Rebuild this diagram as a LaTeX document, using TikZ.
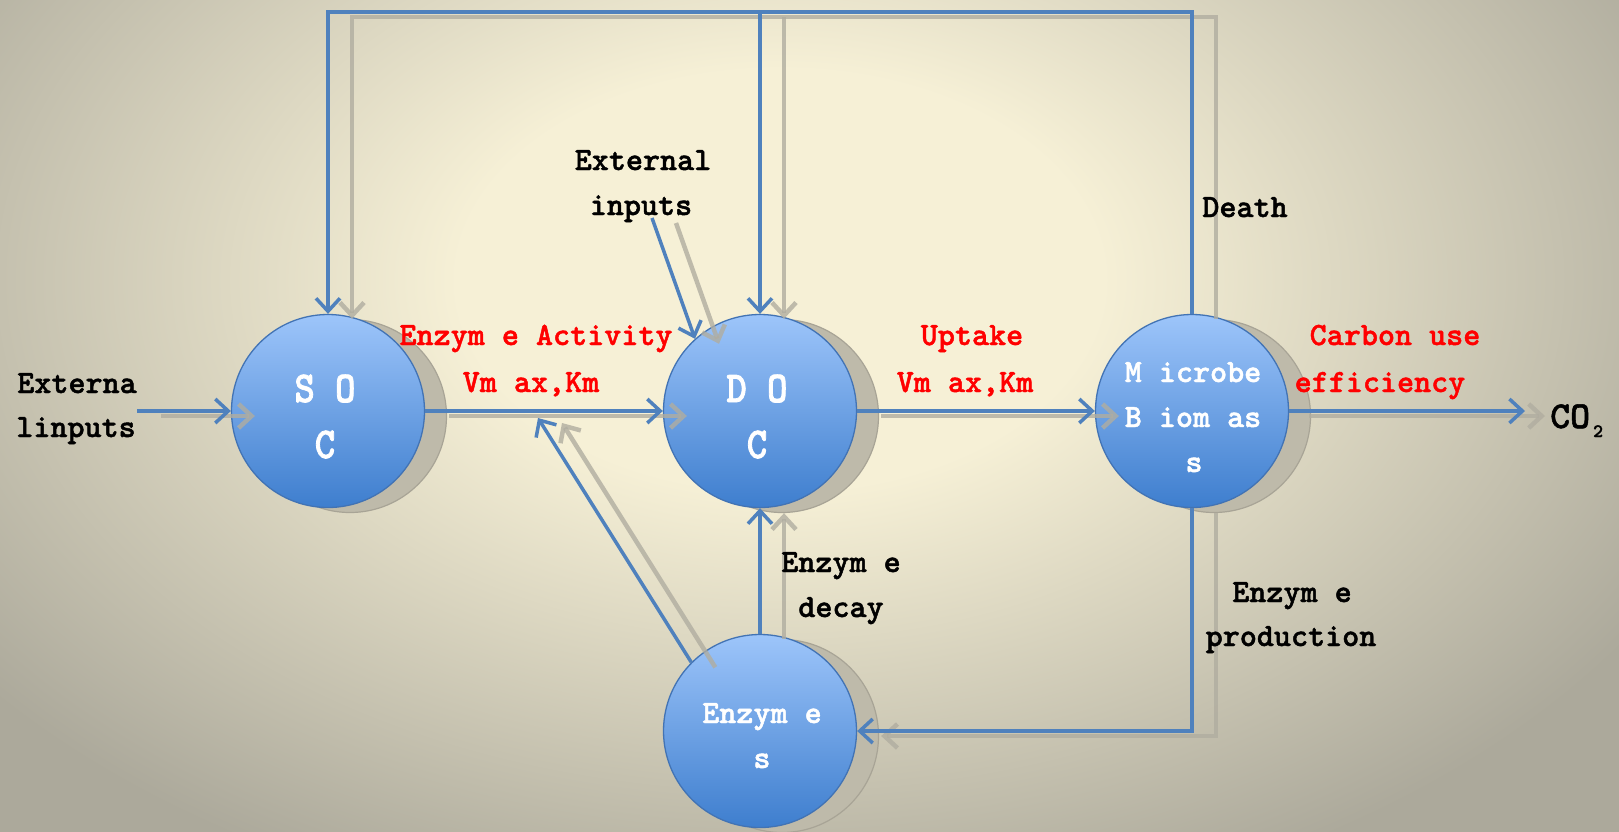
\documentclass[tikz,border=0pt]{standalone}
\usepackage{fontspec}
\usetikzlibrary{arrows.meta}
\newfontfamily\labfont[FakeBold=1.4]{lmmonolt10-bold.otf}
\newfontfamily\bigfont[FakeStretch=0.88,FakeBold=1.8]{lmmonolt10-bold.otf}
\definecolor{bgA}{RGB}{246,240,214}
\definecolor{bgB}{RGB}{172,169,155}
\definecolor{lineblue}{RGB}{79,129,189}
\definecolor{shgray}{RGB}{176,173,160}
\definecolor{ctop}{RGB}{157,197,250}
\definecolor{cbot}{RGB}{62,126,206}
\definecolor{cedge}{RGB}{66,115,180}
\definecolor{dshfill}{RGB}{190,186,170}
\definecolor{dshedge}{RGB}{168,164,150}
\pgfdeclareradialshading{bgshade}{\pgfpoint{0bp}{0bp}}{color(0bp)=(bgA); color(3.5bp)=(bgA); color(11bp)=(bgB); color(50bp)=(bgB)}
\tikzset{
  bubble/.style={circle, minimum size=193pt, inner sep=0pt, draw=cedge, line width=1.3pt, top color=ctop, bottom color=cbot},
  diskshadow/.style={fill=dshfill, draw=dshedge, line width=1.2pt},
  conn/.style={draw=lineblue, line width=3.5pt, -{Straight Barb[length=13pt,width=24pt]}},
  shconn/.style={draw=shgray, line width=4.5pt, opacity=0.8, -{Straight Barb[length=13pt,width=24pt]}},
  lbl/.style={font={\labfont\fontsize{32.5}{33}\selectfont}, inner sep=0pt, anchor=base, text=black},
  redlbl/.style={lbl, text=red},
  ctxt/.style={lbl, text=white},
  bigtxt/.style={font={\bigfont\fontsize{44}{44}\selectfont}, inner sep=0pt, anchor=base, text=white}
}
\begin{document}
\begin{tikzpicture}[x=1pt,y=-1pt]
\useasboundingbox (0,0) rectangle (1619,831);
\begin{scope}
\clip (0,0) rectangle (1619,831);
\shade[shading=bgshade] (780,280) ellipse [x radius=2300, y radius=1500];
\end{scope}

% circle shadows
\fill[diskshadow] (350,416) circle [radius=96.5];
\fill[diskshadow] (782,416) circle [radius=96.5];
\fill[diskshadow] (1214,416) circle [radius=96.5];
\fill[diskshadow] (782,736) circle [radius=96.5];

% circles
\node[bubble] (SOC) at (328,411) {};
\node[bubble] (DOC) at (760,411) {};
\node[bubble] (MB) at (1192,411) {};
\node[bubble] (ENZ) at (760,731) {};

% free coordinates
\coordinate (e1) at (137,411);
\coordinate (e2) at (652,218);
\coordinate (mid) at (538,418);
\coordinate (co2in) at (1525,411);
\coordinate (topL) at (328,12);
\coordinate (topM) at (760,12);
\coordinate (topR) at (1192,12);
\coordinate (botR) at (1192,731);

% shadows of connectors
\draw[shconn] ([shift={(24,5)}]e1) -- ([shift={(24,5)}]SOC.west);
\draw[shconn] ([shift={(24,5)}]SOC.east) -- ([shift={(24,5)}]DOC.west);
\draw[shconn] ([shift={(24,5)}]DOC.east) -- ([shift={(24,5)}]MB.west);
\draw[shconn] ([shift={(20,5)}]MB.east) -- ([shift={(20,5)}]co2in);
\draw[shconn] ([shift={(24,5)}]e2) -- ([shift={(24,5)}]DOC.132);
\draw[shconn] ([shift={(24,5)}]ENZ.north) -- ([shift={(24,5)}]DOC.south);
\draw[shconn] ([shift={(24,5)}]ENZ.135) -- ([shift={(24,5)}]mid);
\draw[shconn] ([shift={(24,5)}]MB.north) -- ([shift={(24,5)}]topR) -- ([shift={(24,5)}]topL) -- ([shift={(24,5)}]SOC.north);
\draw[shconn] ([shift={(24,5)}]topM) -- ([shift={(24,5)}]DOC.north);
\draw[shconn] ([shift={(24,5)}]MB.south) -- ([shift={(24,5)}]botR) -- ([shift={(24,5)}]ENZ.east);

% connectors
\draw[conn] (e1) -- (SOC.west);
\draw[conn] (SOC.east) -- (DOC.west);
\draw[conn] (DOC.east) -- (MB.west);
\draw[conn] (MB.east) -- (co2in);
\draw[conn] (e2) -- (DOC.132);
\draw[conn] (ENZ.north) -- (DOC.south);
\draw[conn] (ENZ.135) -- (mid);
\draw[conn] (MB.north) -- (topR) -- (topL) -- (SOC.north);
\draw[conn] (topM) -- (DOC.north);
\draw[conn] (MB.south) -- (botR) -- (ENZ.east);

% circle texts
\node[bigtxt] (socA) at (325,402) {S O};
\node[bigtxt] (socB) at (325,458) {C};
\node[bigtxt] (docA) at (757,402) {D O};
\node[bigtxt] (docB) at (757,458) {C};
\node[ctxt] (mbA) at (1193,382) {M icrobe};
\node[ctxt] (mbB) at (1193,427) {B iom as};
\node[ctxt] (mbC) at (1194,472) {s};
\node[ctxt] (enzA) at (762,723) {Enzym e};
\node[ctxt] (enzB) at (762,768) {s};

% labels
\node[lbl] (extLa) at (77,393) {Externa};
\node[lbl] (extLb) at (76,437) {linputs};
\node[lbl] (extTa) at (643,170) {External};
\node[lbl] (extTb) at (641,215) {inputs};
\node[redlbl] (eaA) at (536,345) {Enzym e Activity};
\node[redlbl] (eaB) at (531,392) {Vm ax,Km};
\node[redlbl] (upA) at (972,345) {Uptake};
\node[redlbl] (upB) at (965,392) {Vm ax,Km};
\node[redlbl] (cueA) at (1395,345) {Carbon use};
\node[redlbl] (cueB) at (1380,392) {efficiency};
\node[lbl, anchor=base west] (co2) at (1550,428) {\fontsize{38}{38}\selectfont CO\kern3pt\raisebox{-9pt}{\fontsize{19}{19}\selectfont 2}};
\node[lbl] (death) at (1245,217) {Death};
\node[lbl] (edA) at (841,572) {Enzym e};
\node[lbl] (edB) at (841,617) {decay};
\node[lbl] (epA) at (1292,602) {Enzym e};
\node[lbl] (epB) at (1291,646) {production};
\end{tikzpicture}
\end{document}
